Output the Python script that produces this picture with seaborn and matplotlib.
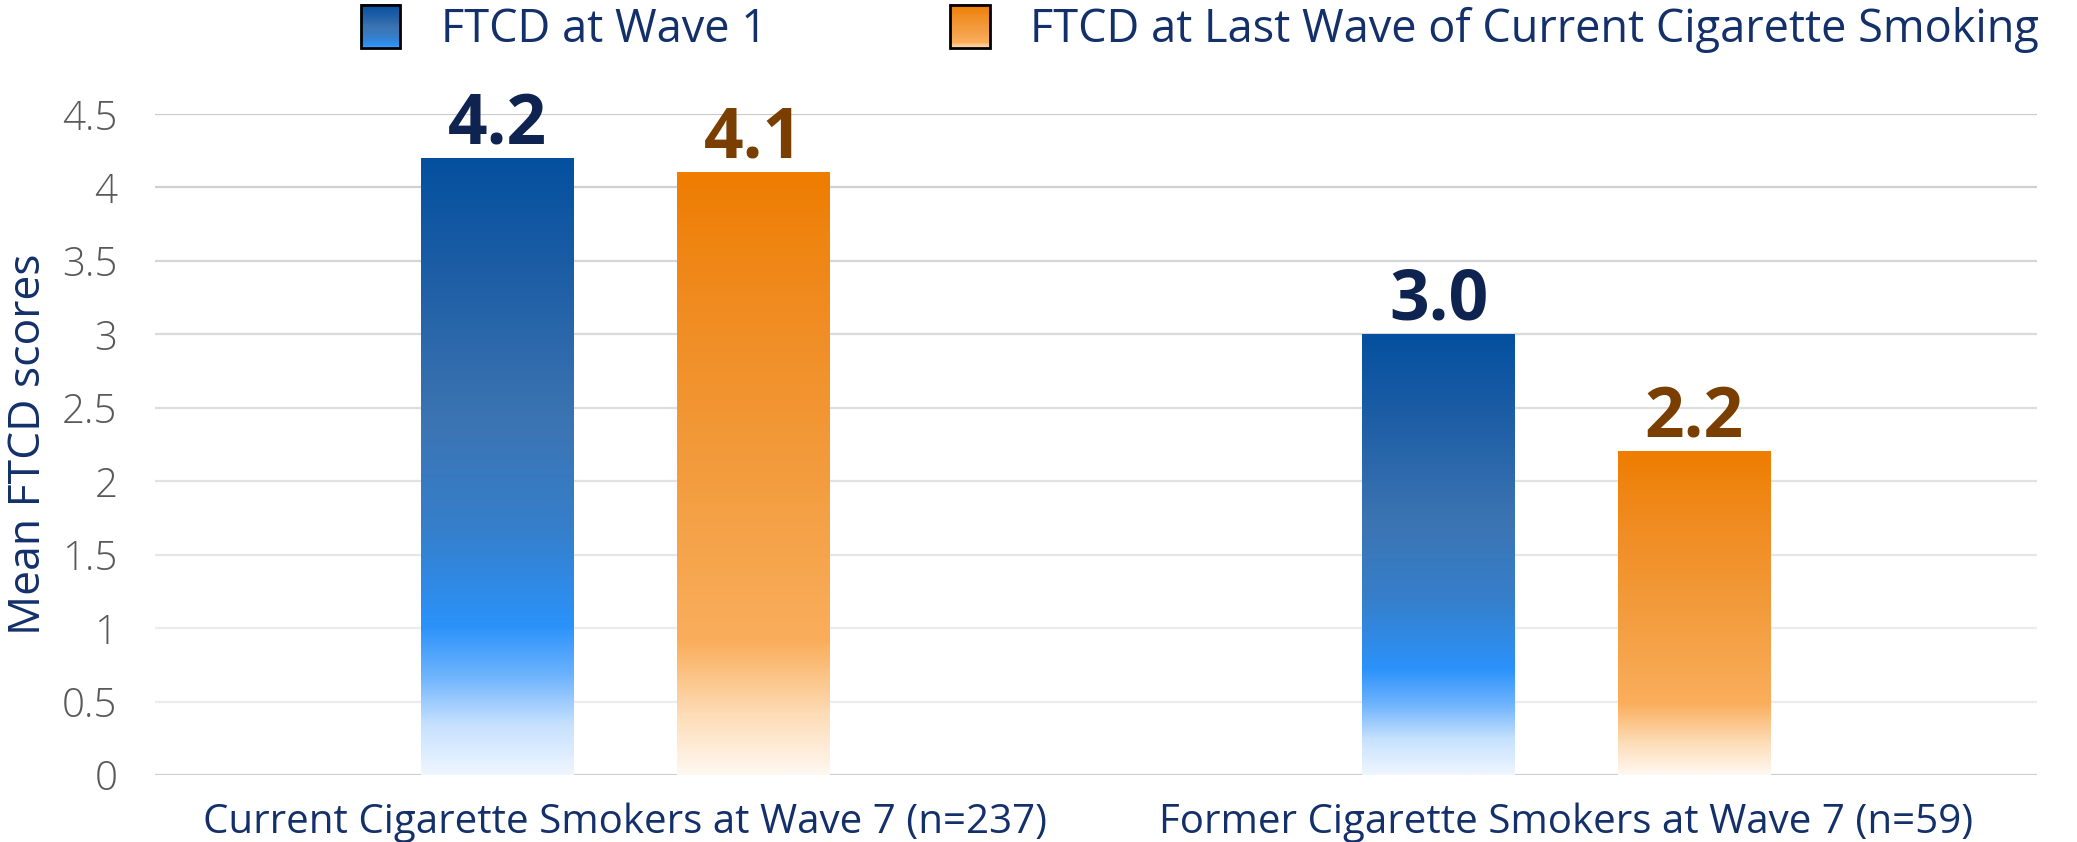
import numpy as np
import pandas as pd
import matplotlib
matplotlib.use("Agg")
import matplotlib.pyplot as plt
import seaborn as sns
from matplotlib.colors import LinearSegmentedColormap
from matplotlib.patches import Rectangle
from matplotlib.legend_handler import HandlerBase

# ---- data ----
categories = ["Current Cigarette Smokers at Wave 7 (n=237)",
              "Former Cigarette Smokers at Wave 7 (n=59)"]
series_names = ["FTCD at Wave 1", "FTCD at Last Wave of Current Cigarette Smoking"]
wave1_values = [4.2, 3.0]
last_wave_values = [4.1, 2.2]
value_labels_wave1 = ["4.2", "3.0"]
value_labels_last = ["4.1", "2.2"]
y_ticks = [0, 0.5, 1, 1.5, 2, 2.5, 3, 3.5, 4, 4.5]
y_tick_labels = ["0", "0.5", "1", "1.5", "2", "2.5", "3", "3.5", "4", "4.5"]

df = pd.DataFrame({
    "group": categories * 2,
    "series": [series_names[0]] * 2 + [series_names[1]] * 2,
    "value": wave1_values + last_wave_values,
})

FONT = ["Open Sans", "DejaVu Sans"]
sns.set_theme(style="white")
plt.rcParams["font.family"] = FONT

NAVY = "#14306b"
blue_cmap = LinearSegmentedColormap.from_list(
    "blue", [(0.0, "#eef6ff"), (0.08, "#c6e1fe"), (0.16, "#6db3fd"), (0.24, "#2b92fa"),
             (0.40, "#367fca"), (0.58, "#3c74b2"), (0.80, "#1f5fa6"), (1.0, "#04509f")])
orange_cmap = LinearSegmentedColormap.from_list(
    "orange", [(0.0, "#fff8f1"), (0.10, "#fddcb6"), (0.22, "#faae5c"),
               (0.50, "#f39c3e"), (0.80, "#f08a1e"), (1.0, "#ee7d00")])
cmaps = [blue_cmap, orange_cmap]
label_colors = ["#0f2350", "#7a3f00"]

fig = plt.figure(figsize=(20.77, 8.42), dpi=100)
ax = fig.add_axes([0.0746, 0.0796, 0.9061, 0.785])

sns.barplot(data=df, x="group", y="value", hue="series", order=categories,
            hue_order=series_names, width=0.544, gap=0.404, dodge=True,
            palette=["#04509f", "#ee7d00"], legend=False, ax=ax, errorbar=None)

grad = np.linspace(0, 1, 256).reshape(-1, 1)
label_sets = [value_labels_wave1, value_labels_last]
for si, cont in enumerate(ax.containers):
    for bi, bar in enumerate(cont):
        x0, w, h = bar.get_x(), bar.get_width(), bar.get_height()
        bar.set_facecolor("none")
        bar.set_edgecolor("none")
        ax.imshow(grad, cmap=cmaps[si], extent=[x0, x0 + w, 0, h], origin="lower",
                  aspect="auto", zorder=2, interpolation="bilinear")
    ax.bar_label(cont, labels=label_sets[si], padding=-1.5, fontsize=50, fontweight="bold",
                 color=label_colors[si], clip_on=False, family=FONT)

ax.set_xlim(-0.5, 1.5)
ax.set_ylim(0, 4.5)
ax.set_yticks(y_ticks)
ax.set_yticklabels(y_tick_labels, fontsize=29, color="#595959", fontweight="light")
ax.tick_params(axis="y", length=0, pad=27)
ax.tick_params(axis="x", length=0, pad=20, labelsize=29, labelcolor=NAVY)
ax.set_xlabel("")
ax.set_ylabel("Mean FTCD scores", fontsize=32, color=NAVY, labelpad=8)
ax.yaxis.grid(True, linewidth=1.6, zorder=0)
ax.set_axisbelow(True)
grid_cols = ["#d0d0d0", "#ececec", "#ececec", "#e6e6e6", "#e2e2e2", "#dedede",
             "#dadada", "#d6d6d6", "#d0d0d0", "#cacaca"]
for gl, c in zip(ax.get_ygridlines(), grid_cols):
    gl.set_color(c)
for s in ["top", "right", "left", "bottom"]:
    ax.spines[s].set_visible(False)


class GradientHandler(HandlerBase):
    def __init__(self, cmap, top=1.0, bottom=0.3):
        super().__init__()
        self.cmap, self.top, self.bottom = cmap, top, bottom

    def create_artists(self, legend, orig_handle, xdescent, ydescent, width, height,
                       fontsize, trans):
        arts = []
        n = 24
        for i in range(n):
            f = self.bottom + (self.top - self.bottom) * (i + 0.5) / n
            arts.append(Rectangle((-xdescent, -ydescent + height * i / n), width,
                                  height / n + 0.3, facecolor=self.cmap(f),
                                  edgecolor="none", transform=trans))
        arts.append(Rectangle((-xdescent, -ydescent), width, height, facecolor="none",
                              edgecolor="black", linewidth=2, transform=trans))
        return arts


h1 = Rectangle((0, 0), 1, 1)
h2 = Rectangle((0, 0), 1, 1)
leg = fig.legend([h1, h2], series_names, loc="center", bbox_to_anchor=(0.5777, 0.966),
                 ncol=2, frameon=False, fontsize=32.5, handlelength=0.88, handleheight=1.1,
                 handletextpad=0.9, columnspacing=4.05, borderpad=0, labelcolor=NAVY,
                 handler_map={h1: GradientHandler(blue_cmap, 1.0, 0.2),
                              h2: GradientHandler(orange_cmap, 1.0, 0.1)})

fig.savefig("out.png", dpi=100, facecolor="white")
